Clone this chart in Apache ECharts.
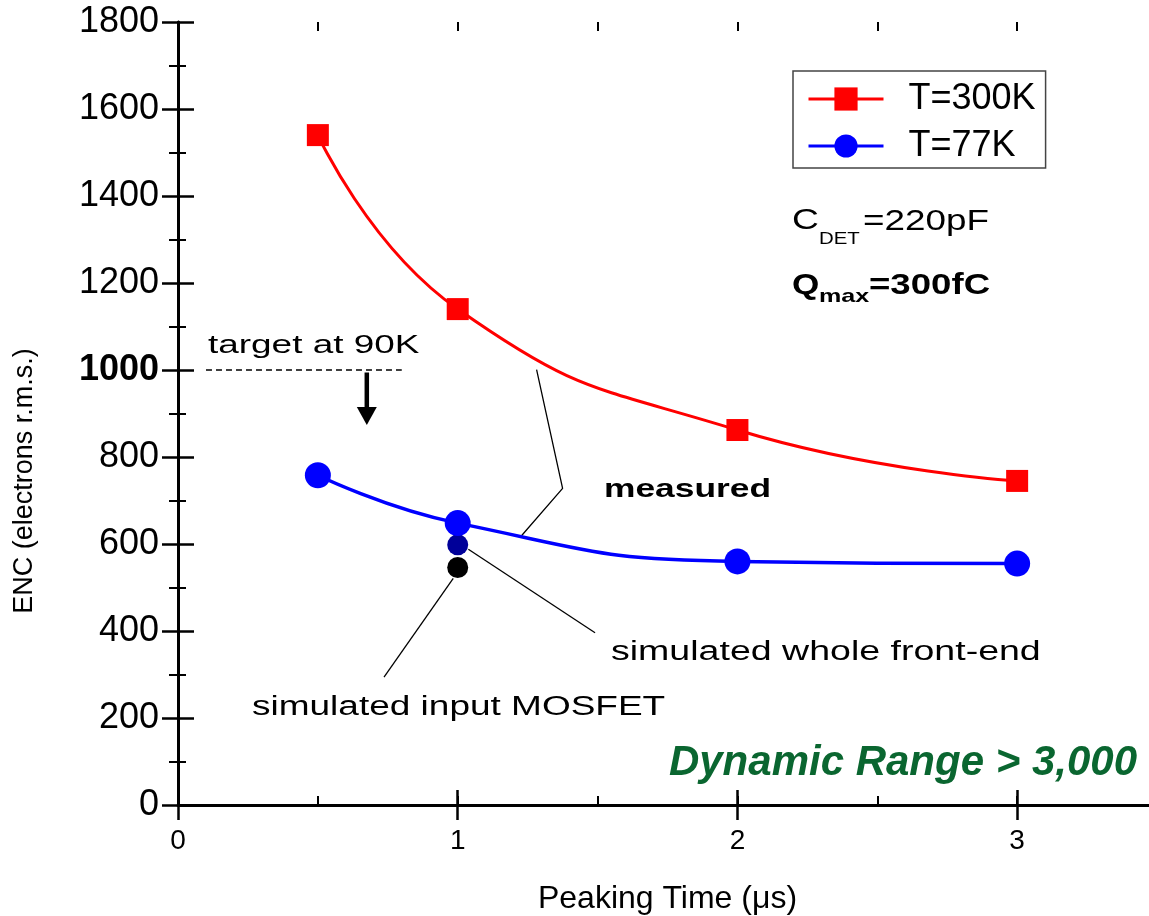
<!DOCTYPE html>
<html>
<head>
<meta charset="utf-8">
<title>ENC vs Peaking Time</title>
<script src="https://cdn.jsdelivr.net/npm/echarts@6/dist/echarts.min.js"></script>
<style>
  html, body { margin: 0; padding: 0; background: #fff; }
  #chart { width: 1149px; height: 916px; }
</style>
</head>
<body>
<div id="chart"></div>
<script>
// Peaking times (µs) and measured ENC (electrons r.m.s.)
const peakingTime = [0.5, 1, 2, 3];
const enc300K = [1540, 1140, 862, 745];
const enc77K = [758, 648, 560, 555];

// Simulated ENC at 1 µs
const simWholeFrontEnd = [[1, 598]];
const simInputMosfet = [[1, 546]];

// Target level at 90 K
const targetEnc = 1000;
const targetSpan = [0.10, 0.80];
const targetArrow = [[0.675, 994], [0.675, 900]];
const targetArrowHead = [[0.675, 894]];

// Leader lines for the callouts (data coordinates)
const measuredLeader = [[1.282, 1001], [1.375, 728], [1.228, 619]];
const frontEndLeader = [[1.038, 588], [1.491, 396]];
const mosfetLeader = [[0.984, 521], [0.7365, 294]];

const FONT = '"Liberation Sans", Arial, Helvetica, sans-serif';
const chart = echarts.init(document.getElementById('chart'), null, { renderer: 'canvas' });

const pairs = (xs, ys) => xs.map((x, i) => [x, ys[i]]);
const guide = (data, extra) => Object.assign({
  type: 'line', data, symbol: 'none', silent: true, z: 1,
  lineStyle: { color: '#000', width: 1.3 }
}, extra || {});

const baseX = { type: 'value', min: 0, max: 3.5, splitLine: { show: false } };
const baseY = { type: 'value', min: 0, max: 1800, interval: 200, splitLine: { show: false } };

chart.setOption({
  animation: false,
  backgroundColor: '#fff',
  grid: { left: 178, top: 22, width: 979, height: 783, containLabel: false, outerBoundsMode: 'none' },
  legend: {
    data: ['T=300K', 'T=77K'],
    orient: 'vertical',
    left: 793, top: 71,
    borderColor: '#444', borderWidth: 1.5,
    padding: [8, 10, 2, 14],
    itemWidth: 75, itemHeight: 29, itemGap: 7,
    lineStyle: { width: 3 },
    textStyle: { fontFamily: FONT, fontSize: 36, lineHeight: 40, color: '#000', padding: [0, 0, 0, 20] }
  },
  xAxis: [
    Object.assign({}, baseX, {
      position: 'bottom', interval: 1,
      name: 'Peaking Time (\u03bcs)', nameLocation: 'middle', nameGap: 78,
      nameTextStyle: { fontFamily: FONT, fontSize: 32, color: '#000' },
      axisLine: { show: true, lineStyle: { color: '#000', width: 3 } },
      axisTick: { show: true, inside: true, length: 15, lineStyle: { color: '#000', width: 2.5 } },
      axisLabel: { fontFamily: FONT, fontSize: 28, color: '#000', margin: 22, showMaxLabel: false,
        formatter: v => (Number.isInteger(v) ? String(v) : '') }
    }),
    Object.assign({}, baseX, {
      position: 'top', interval: 1,
      axisLine: { show: true, lineStyle: { color: '#000', width: 2.5 } },
      axisTick: { show: true, inside: true, length: 15, lineStyle: { color: '#000', width: 2.5 } },
      axisLabel: { show: false }
    }),
    Object.assign({}, baseX, {
      position: 'bottom', interval: 0.5,
      axisLine: { show: false },
      axisTick: { show: true, inside: true, length: 9, lineStyle: { color: '#000', width: 2 } },
      axisLabel: { show: false }
    }),
    Object.assign({}, baseX, {
      position: 'top', interval: 0.5,
      axisLine: { show: false },
      axisTick: { show: true, inside: true, length: 9, lineStyle: { color: '#000', width: 2 } },
      axisLabel: { show: false }
    })
  ],
  yAxis: [
    Object.assign({}, baseY, {
      position: 'left',
      name: 'ENC (electrons r.m.s.)', nameLocation: 'middle', nameGap: 140,
      nameTextStyle: { fontFamily: FONT, fontSize: 27, color: '#000', padding: [0, 135, 0, 0] },
      axisLine: { show: true, lineStyle: { color: '#000', width: 3 } },
      axisTick: { show: true, inside: true, length: 16, lineStyle: { color: '#000', width: 2.5 } },
      minorTick: { show: true, splitNumber: 2, length: 8, lineStyle: { color: '#000', width: 2 } },
      axisLabel: {
        fontFamily: FONT, fontSize: 36, color: '#000', margin: 19,
        formatter: v => (v === targetEnc ? '{b|' + v + '}' : String(v)),
        rich: { b: { fontFamily: FONT, fontSize: 36, fontWeight: 'bold', color: '#000' } }
      }
    }),
    Object.assign({}, baseY, {
      position: 'right',
      axisLine: { show: true, lineStyle: { color: '#000', width: 2.5 } },
      axisTick: { show: true, inside: true, length: 16, lineStyle: { color: '#000', width: 2.5 } },
      minorTick: { show: true, splitNumber: 2, length: 9, lineStyle: { color: '#000', width: 2 } },
      axisLabel: { show: false }
    })
  ],
  series: [
    // callout guides
    guide([[targetSpan[0], targetEnc], [targetSpan[1], targetEnc]], {
      lineStyle: { color: '#000', width: 1.5, type: [6, 4] }
    }),
    guide(targetArrow, { lineStyle: { color: '#000', width: 4.5 } }),
    {
      type: 'scatter', data: targetArrowHead, symbol: 'triangle', symbolRotate: 180,
      symbolSize: [20, 18], itemStyle: { color: '#000', opacity: 1 }, silent: true, z: 1
    },
    guide(measuredLeader),
    guide(frontEndLeader),
    guide(mosfetLeader),
    // simulated points
    {
      name: 'simulated whole front-end', type: 'scatter', data: simWholeFrontEnd,
      symbol: 'circle', symbolSize: 21, itemStyle: { color: '#000099', opacity: 1 }, z: 2
    },
    {
      name: 'simulated input MOSFET', type: 'scatter', data: simInputMosfet,
      symbol: 'circle', symbolSize: 21, itemStyle: { color: '#000', opacity: 1 }, z: 2
    },
    // measured curves
    {
      name: 'T=300K', type: 'line', data: pairs(peakingTime, enc300K), smooth: 0.5,
      symbol: 'rect', symbolSize: 22, showAllSymbol: true,
      lineStyle: { color: '#ff0000', width: 3 }, itemStyle: { color: '#ff0000' }, z: 3
    },
    {
      name: 'T=77K', type: 'line', data: pairs(peakingTime, enc77K), smooth: 0.5,
      symbol: 'circle', symbolSize: 26, showAllSymbol: true,
      lineStyle: { color: '#0000ff', width: 3.5 }, itemStyle: { color: '#0000ff' }, z: 3
    }
  ],
  graphic: [
    { type: 'text', x: 208, y: 346, scaleX: 1.42, z: 10,
      style: { text: 'target at 90K', font: '26px ' + FONT, fill: '#000', textVerticalAlign: 'middle' } },
    { type: 'text', x: 792, y: 221, scaleX: 1.24, z: 10,
      style: { text: 'C', font: '30px ' + FONT, fill: '#000', textVerticalAlign: 'middle' } },
    { type: 'text', x: 819, y: 239, scaleX: 1.2, z: 10,
      style: { text: 'DET', font: '17px ' + FONT, fill: '#000', textVerticalAlign: 'middle' } },
    { type: 'text', x: 863, y: 222, scaleX: 1.27, z: 10,
      style: { text: '=220pF', font: '29px ' + FONT, fill: '#000', textVerticalAlign: 'middle' } },
    { type: 'text', x: 792, y: 286, scaleX: 1.17, z: 10,
      style: { text: 'Q', font: 'bold 30px ' + FONT, fill: '#000', textVerticalAlign: 'middle' } },
    { type: 'text', x: 819, y: 297, scaleX: 1.32, z: 10,
      style: { text: 'max', font: 'bold 19px ' + FONT, fill: '#000', textVerticalAlign: 'middle' } },
    { type: 'text', x: 869, y: 286, scaleX: 1.22, z: 10,
      style: { text: '=300fC', font: 'bold 30px ' + FONT, fill: '#000', textVerticalAlign: 'middle' } },
    { type: 'text', x: 604, y: 490, scaleX: 1.36, z: 10,
      style: { text: 'measured', font: 'bold 26px ' + FONT, fill: '#000', textVerticalAlign: 'middle' } },
    { type: 'text', x: 611, y: 653, scaleX: 1.39, z: 10,
      style: { text: 'simulated whole front-end', font: '27px ' + FONT, fill: '#000', textVerticalAlign: 'middle' } },
    { type: 'text', x: 252, y: 708, scaleX: 1.37, z: 10,
      style: { text: 'simulated input MOSFET', font: '27px ' + FONT, fill: '#000', textVerticalAlign: 'middle' } },
    { type: 'text', x: 1137, y: 763, z: 10,
      style: { text: 'Dynamic Range > 3,000', font: 'italic bold 42px ' + FONT, fill: '#0a6630',
        textAlign: 'right', textVerticalAlign: 'middle' } }
  ]
});
</script>
</body>
</html>
